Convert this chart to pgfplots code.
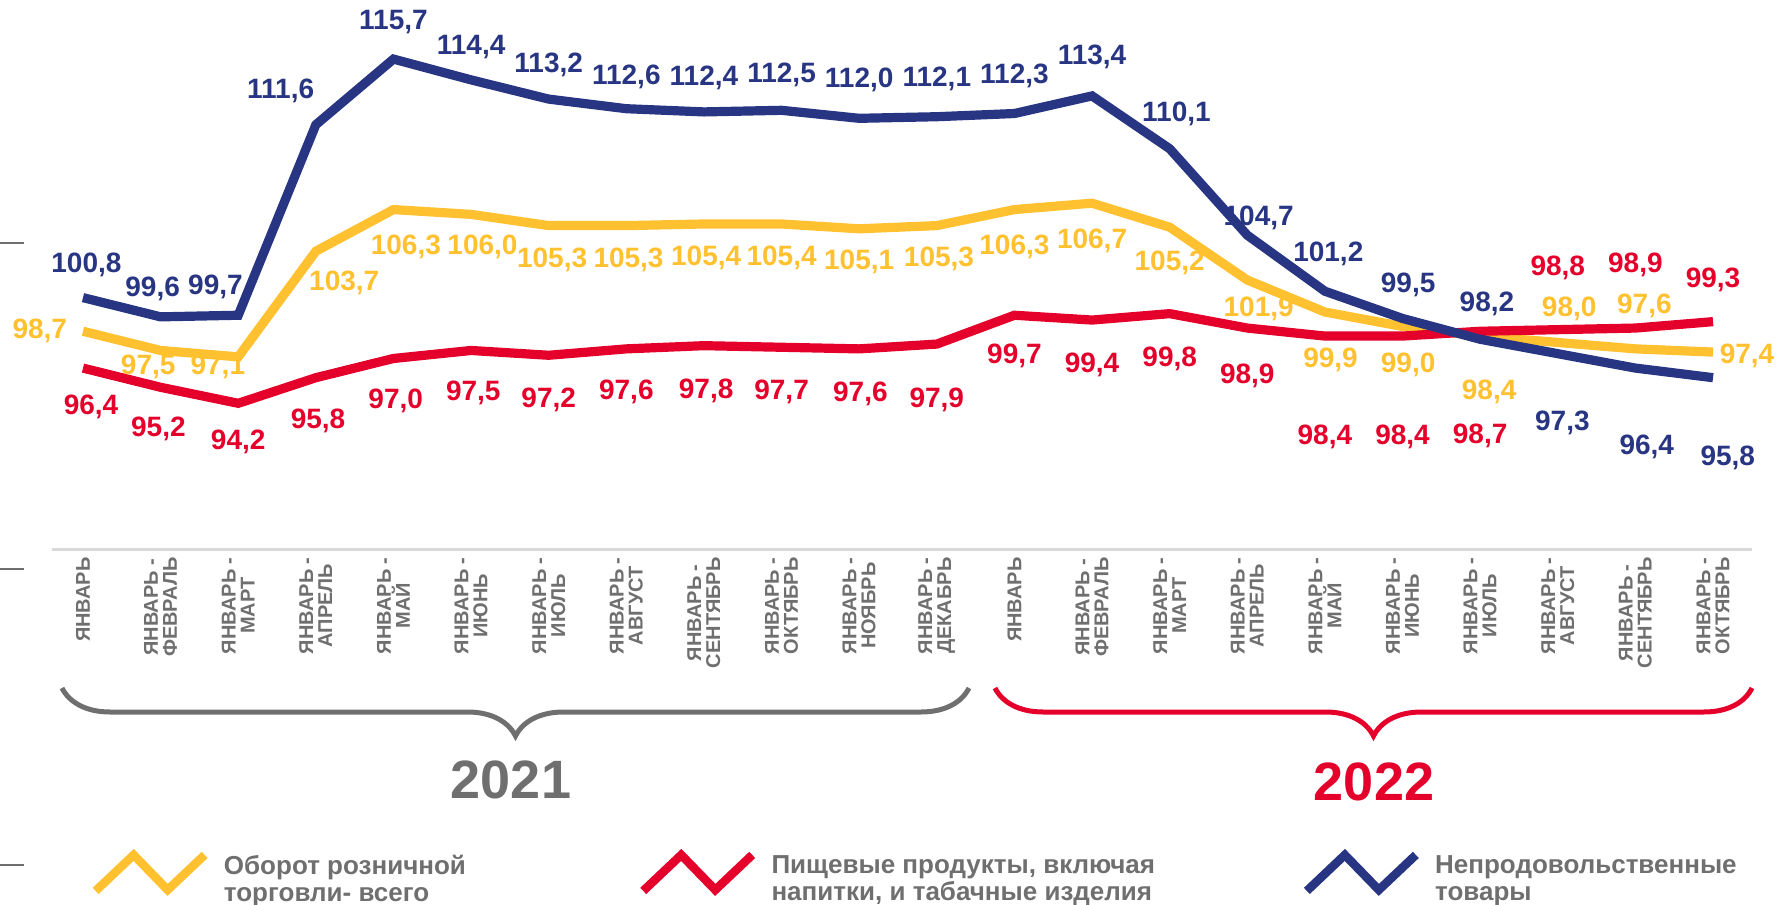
\documentclass[border=0pt]{standalone}
\usepackage{fontspec}
\setmainfont{Liberation Sans}
\usepackage{pgfplots}
\pgfplotsset{compat=1.18}
\usepackage{pgfplotstable}
\usetikzlibrary{decorations.pathreplacing}
\definecolor{cnavy}{HTML}{283583}
\definecolor{cyel}{HTML}{FFC12F}
\definecolor{cred}{HTML}{E4002B}
\definecolor{cgray}{HTML}{6F6F6F}
\definecolor{cline}{HTML}{D9D9D9}
\newcommand\lbl{\fontsize{14}{14}\selectfont\bfseries}

\pgfplotstableread{
x v dx dy
0 98.7 -21.6 0
1 97.5 -6.2 -8.0
2 97.1 -10.2 -5.1
3 103.7 14.2 -15.9
4 106.3 6.2 -18.7
5 106.0 5.7 -16.5
6 105.3 1.7 -17.0
7 105.3 1.1 -17.0
8 105.4 1.1 -17.0
9 105.4 0 -17.0
10 105.1 0 -16.5
11 105.3 1.1 -16.5
12 106.3 0 -18.7
13 106.7 0 -18.7
14 105.2 0 -17.6
15 101.9 5.7 -14.2
16 99.9 2.8 -23.9
17 99.0 2.8 -19.3
18 98.4 4.5 -27.8
19 98.0 5.7 17.0
20 97.6 4.5 21.5
21 97.4 17.0 -1.7
}\ydata

\pgfplotstableread{
x v dx dy
0 96.4 4.0 -19.3
1 95.2 -1.1 -21.0
2 94.2 0 -19.3
3 95.8 1.1 -21.6
4 97.0 1.1 -21.0
5 97.5 1.1 -21.0
6 97.2 0 -22.2
7 97.6 0 -21.6
8 97.8 1.1 -22.7
9 97.7 0 -22.2
10 97.6 0.6 -22.7
11 97.9 0 -27.8
12 99.7 0 -20.4
13 99.4 0 -22.2
14 99.8 0 -22.7
15 98.9 0 -23.9
16 98.4 0 -50.6
17 98.4 0 -50.6
18 98.7 0 -52.3
19 98.8 0 30.7
20 98.9 0 31.8
21 99.3 0 21.0
}\rdata

\pgfplotstableread{
x v dx dy
0 100.8 1.7 16.5
1 99.6 -4.0 14.2
2 99.7 -11.4 14.2
3 111.6 -17.6 17.0
4 115.7 0 18.5
5 114.4 0 16.5
6 113.2 0 17.0
7 112.6 0 16.0
8 112.4 0 17.0
9 112.5 0 17.6
10 112.0 0 19.3
11 112.1 0 18.7
12 112.3 0 18.7
13 113.4 0 19.3
14 110.1 3.4 17.6
15 104.7 5.7 8.5
16 101.2 1.7 18.7
17 99.5 2.8 17.0
18 98.2 3.4 17.6
19 97.3 2.3 -34.6
20 96.4 5.7 -39.2
21 95.8 7.4 -40.3
}\bdata

\begin{document}
\begin{tikzpicture}
\useasboundingbox (-26pt,-177.5pt) rectangle (864pt,274.5pt);
\begin{axis}[
  scale only axis,
  width=850pt, height=274.5pt,
  xmin=-0.3994, xmax=21.5025,
  ymin=85.10, ymax=119.39,
  clip=false,
  axis x line*=bottom,
  axis y line=none,
  axis line style={cline, line width=1.5pt},
  xtick=data,
  xtick style={draw=none},
  ytick=\empty,
  xticklabels={ЯНВАРЬ, {ЯНВАРЬ -\\ФЕВРАЛЬ}, {ЯНВАРЬ -\\МАРТ}, {ЯНВАРЬ -\\АПРЕЛЬ}, {ЯНВАРЬ -\\МАЙ}, {ЯНВАРЬ -\\ИЮНЬ}, {ЯНВАРЬ -\\ИЮЛЬ}, {ЯНВАРЬ -\\АВГУСТ}, {ЯНВАРЬ -\\СЕНТЯБРЬ}, {ЯНВАРЬ -\\ОКТЯБРЬ}, {ЯНВАРЬ -\\НОЯБРЬ}, {ЯНВАРЬ -\\ДЕКАБРЬ}, ЯНВАРЬ, {ЯНВАРЬ -\\ФЕВРАЛЬ}, {ЯНВАРЬ -\\МАРТ}, {ЯНВАРЬ -\\АПРЕЛЬ}, {ЯНВАРЬ -\\МАЙ}, {ЯНВАРЬ -\\ИЮНЬ}, {ЯНВАРЬ -\\ИЮЛЬ}, {ЯНВАРЬ -\\АВГУСТ}, {ЯНВАРЬ -\\СЕНТЯБРЬ}, {ЯНВАРЬ -\\ОКТЯБРЬ}},
  xticklabel style={rotate=90, anchor=east, align=center, font=\fontsize{10}{9.5}\selectfont\bfseries, text=cgray, inner sep=0pt},
  xticklabel shift=4pt,
  legend columns=3,
  legend cell align=left,
  legend style={at={(0.0229,-0.590)}, anchor=west, draw=none, fill=none, inner sep=0pt,
    font=\fontsize{13}{13.5}\selectfont\bfseries, text=cgray,
    nodes={inner sep=0pt},
    /tikz/every odd column/.append style={column sep=7.5pt},
    /tikz/every even column/.append style={column sep=10.5pt}},
]
\addplot[cyel, line width=4.6pt,
  point meta=\thisrow{v},
  nodes near coords={\pgfmathprintnumber[fixed,fixed zerofill,precision=1,use comma,assume math mode=true]{\pgfplotspointmeta}},
  visualization depends on={\thisrow{dx} \as \dx},
  visualization depends on={\thisrow{dy} \as \dy},
  every node near coord/.append style={anchor=center, xshift=\dx pt, yshift=\dy pt, font=\lbl, text=cyel},
  legend image code/.code={\draw[cyel, line width=4.3pt] (0pt,-9pt) -- (19pt,9pt) -- (36pt,-8.5pt) -- (54.5pt,9pt);}
] table[x=x, y=v] {\ydata};
\addlegendentry{\parbox[c]{197pt}{Оборот розничной\\торговли- всего}}
\addplot[cred, line width=4.6pt,
  point meta=\thisrow{v},
  nodes near coords={\pgfmathprintnumber[fixed,fixed zerofill,precision=1,use comma,assume math mode=true]{\pgfplotspointmeta}},
  visualization depends on={\thisrow{dx} \as \dx},
  visualization depends on={\thisrow{dy} \as \dy},
  every node near coord/.append style={anchor=center, xshift=\dx pt, yshift=\dy pt, font=\lbl, text=cred},
  legend image code/.code={\draw[cred, line width=4.3pt] (0pt,-9pt) -- (19pt,9pt) -- (36pt,-8.5pt) -- (54.5pt,9pt);}
] table[x=x, y=v] {\rdata};
\addlegendentry{\parbox[c]{255pt}{Пищевые продукты, включая\\напитки, и табачные изделия}}
\addplot[cnavy, line width=4.6pt,
  point meta=\thisrow{v},
  nodes near coords={\pgfmathprintnumber[fixed,fixed zerofill,precision=1,use comma,assume math mode=true]{\pgfplotspointmeta}},
  visualization depends on={\thisrow{dx} \as \dx},
  visualization depends on={\thisrow{dy} \as \dy},
  every node near coord/.append style={anchor=center, xshift=\dx pt, yshift=\dy pt, font=\lbl, text=cnavy},
  legend image code/.code={\draw[cnavy, line width=4.3pt] (0pt,-9pt) -- (19pt,9pt) -- (36pt,-8.5pt) -- (54.5pt,9pt);}
] table[x=x, y=v] {\bdata};
\addlegendentry{\parbox[c]{150pt}{Непродовольственные\\товары}}
\end{axis}
% left tick marks
\draw[cgray, line width=1pt] (-26pt,153pt) -- (-14pt,153pt);
\draw[cgray, line width=1pt] (-26pt,-10pt) -- (-14pt,-10pt);
\draw[cgray, line width=1pt] (-26pt,-158pt) -- (-14pt,-158pt);
% braces
\draw[cgray, line width=2.5pt, decorate, decoration={brace, mirror, amplitude=24pt}] (5pt,-69.5pt) -- (458.5pt,-69.5pt);
\draw[cred, line width=2.5pt, decorate, decoration={brace, mirror, amplitude=24pt}] (471.5pt,-69.5pt) -- (850pt,-69.5pt);
\node[text=cgray, font=\fontsize{27}{27}\selectfont\bfseries] at (229.5pt,-115.5pt) {2021};
\node[text=cred, font=\fontsize{27}{27}\selectfont\bfseries] at (661pt,-116.5pt) {2022};
\end{tikzpicture}
\end{document}
